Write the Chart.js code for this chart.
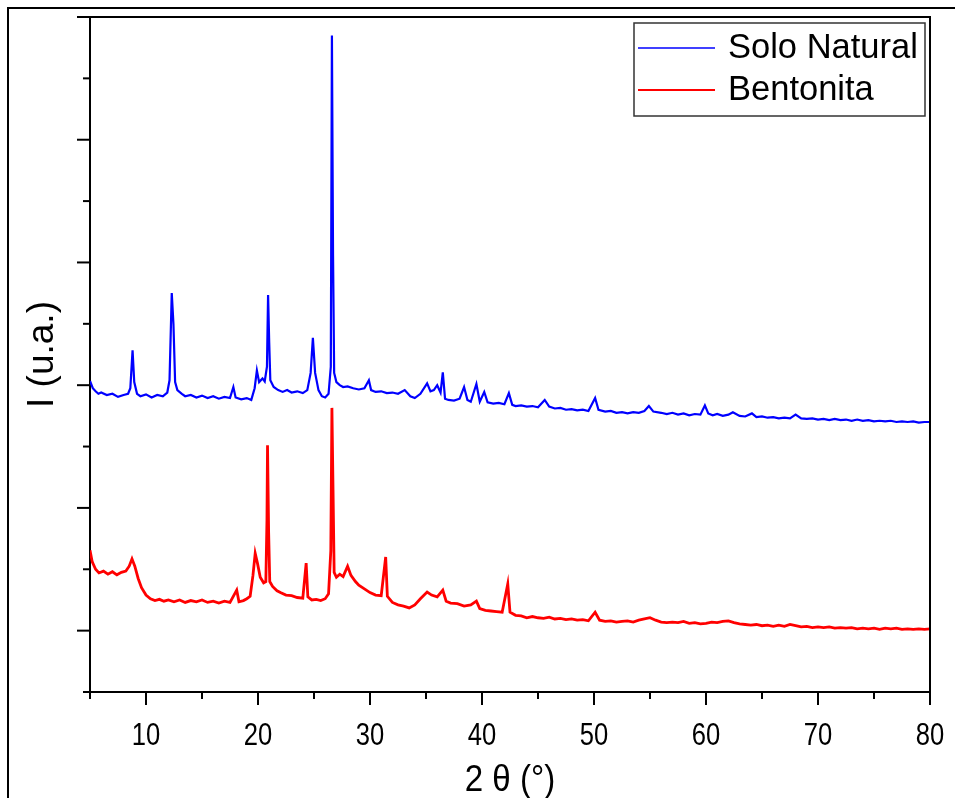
<!DOCTYPE html>
<html>
<head>
<meta charset="utf-8">
<title>DRX - Solo Natural x Bentonita</title>
<script src="https://cdn.jsdelivr.net/npm/chart.js@4.4.1/dist/chart.umd.min.js"></script>
<style>
    html, body { margin: 0; padding: 0; background: #fff; }
    #wrap { width: 955px; height: 798px; }
</style>
</head>
<body>
<div id="wrap"><canvas id="xrdChart" width="955" height="798"></canvas></div>
<script>
// 2 theta (degrees) and intensity (a.u., one y tick = 1)
const soloTheta = [5.0, 5.25, 5.5, 5.75, 6.0, 6.5, 7.0, 7.5, 8.0, 8.4, 8.6, 8.8, 8.95, 9.2, 9.5, 10.0, 10.5, 11.0, 11.5, 11.9,
    12.1, 12.3, 12.45, 12.6, 12.8, 13.2, 13.5, 14.0, 14.5, 15.0, 15.5, 16.0, 16.5, 17.0, 17.5, 17.8, 18.0, 18.5, 19.0, 19.4,
    19.7, 19.9, 20.1, 20.4, 20.6, 20.8, 20.9, 21.0, 21.1, 21.4, 21.8, 22.2, 22.6, 23.0, 23.5, 24.0, 24.4, 24.7, 24.9, 25.1,
    25.4, 25.7, 26.0, 26.3, 26.5, 26.6, 26.7, 26.8, 27.0, 27.3, 27.6, 28.0, 28.5, 29.0, 29.5, 29.9, 30.1, 30.5, 31.0, 31.5,
    32.0, 32.5, 33.1, 33.6, 34.0, 34.5, 35.1, 35.4, 35.7, 36.0, 36.3, 36.5, 36.7, 37.0, 37.5, 38.0, 38.4, 38.7, 39.0, 39.5,
    39.8, 40.2, 40.5, 41.0, 41.5, 42.0, 42.4, 42.7, 43.0, 43.5, 44.0, 44.5, 45.0, 45.6, 46.0, 46.5, 47.0, 47.5, 48.0, 48.5,
    49.0, 49.5, 50.1, 50.4, 51.0, 51.5, 52.0, 52.5, 53.0, 53.5, 54.0, 54.5, 54.9, 55.3, 56.0, 56.5, 57.0, 57.5, 58.0, 58.5,
    59.0, 59.5, 59.9, 60.2, 60.6, 61.0, 61.5, 62.0, 62.4, 63.0, 63.5, 64.1, 64.5, 65.0, 65.5, 66.0, 66.5, 67.0, 67.5, 68.0,
    68.5, 69.0, 69.5, 70.0, 70.5, 71.0, 71.5, 72.0, 72.5, 73.0, 73.5, 74.0, 74.5, 75.0, 75.5, 76.0, 76.5, 77.0, 77.5, 78.0,
    78.5, 79.0, 79.5, 80.0];
const soloI = [5.07, 4.95, 4.90, 4.86, 4.88, 4.84, 4.86, 4.81, 4.84, 4.86, 4.95, 5.57, 5.05, 4.86, 4.82, 4.85, 4.80, 4.84, 4.82, 4.88,
    5.08, 6.50, 6.00, 5.05, 4.92, 4.86, 4.82, 4.84, 4.80, 4.83, 4.79, 4.82, 4.78, 4.81, 4.79, 4.97, 4.80, 4.77, 4.79, 4.76,
    4.95, 5.24, 5.05, 5.11, 5.06, 5.30, 6.47, 5.70, 5.08, 4.97, 4.92, 4.89, 4.92, 4.88, 4.90, 4.87, 4.92, 5.20, 5.77, 5.20,
    4.92, 4.82, 4.80, 4.86, 5.30, 10.70, 7.12, 5.20, 5.05, 5.00, 4.97, 4.98, 4.95, 4.93, 4.95, 5.08, 4.92, 4.89, 4.90, 4.87,
    4.88, 4.86, 4.92, 4.82, 4.79, 4.86, 5.03, 4.90, 4.92, 5.00, 4.88, 5.21, 4.78, 4.76, 4.75, 4.78, 4.97, 4.76, 4.73, 5.02,
    4.73, 4.89, 4.72, 4.70, 4.71, 4.69, 4.87, 4.68, 4.66, 4.67, 4.65, 4.66, 4.64, 4.76, 4.65, 4.62, 4.63, 4.60, 4.61, 4.59,
    4.60, 4.58, 4.79, 4.60, 4.57, 4.58, 4.55, 4.56, 4.54, 4.56, 4.55, 4.58, 4.66, 4.57, 4.55, 4.53, 4.55, 4.52, 4.54, 4.51,
    4.53, 4.52, 4.67, 4.54, 4.51, 4.53, 4.50, 4.52, 4.56, 4.50, 4.49, 4.54, 4.48, 4.49, 4.47, 4.48, 4.46, 4.47, 4.46, 4.52,
    4.46, 4.45, 4.46, 4.44, 4.45, 4.43, 4.45, 4.43, 4.44, 4.42, 4.44, 4.42, 4.43, 4.41, 4.42, 4.41, 4.42, 4.40, 4.41, 4.40,
    4.41, 4.39, 4.40, 4.40];

const bentTheta = [5.0, 5.2, 5.5, 5.8, 6.2, 6.6, 7.0, 7.4, 7.8, 8.2, 8.5, 8.75, 9.0, 9.3, 9.6, 10.0, 10.4, 10.8, 11.2, 11.6,
    12.0, 12.5, 13.0, 13.5, 14.0, 14.5, 15.0, 15.5, 16.0, 16.5, 17.0, 17.5, 18.1, 18.3, 18.7, 19.0, 19.3, 19.55, 19.75, 19.95,
    20.2, 20.5, 20.7, 20.8, 20.85, 20.95, 21.05, 21.3, 21.7, 22.0, 22.5, 23.0, 23.5, 24.0, 24.3, 24.45, 24.8, 25.2, 25.6, 26.0,
    26.3, 26.5, 26.6, 26.7, 26.8, 27.0, 27.3, 27.6, 28.0, 28.3, 28.7, 29.0, 29.5, 30.0, 30.5, 31.0, 31.4, 31.55, 32.0, 32.5,
    33.0, 33.5, 34.0, 34.5, 35.1, 35.5, 36.0, 36.5, 36.8, 37.2, 37.8, 38.4, 39.0, 39.5, 39.8, 40.3, 40.8, 41.3, 41.8, 42.3,
    42.5, 43.0, 43.5, 44.0, 44.5, 45.0, 45.5, 46.0, 46.5, 47.0, 47.5, 48.0, 48.5, 49.0, 49.5, 50.1, 50.5, 51.0, 51.5, 52.0,
    52.5, 53.0, 53.5, 54.0, 54.5, 55.0, 55.5, 56.0, 56.5, 57.0, 57.5, 58.0, 58.5, 59.0, 59.5, 60.0, 60.5, 61.0, 61.5, 62.0,
    62.5, 63.0, 63.5, 64.0, 64.5, 65.0, 65.5, 66.0, 66.5, 67.0, 67.5, 68.0, 68.5, 69.0, 69.5, 70.0, 70.5, 71.0, 71.5, 72.0,
    72.5, 73.0, 73.5, 74.0, 74.5, 75.0, 75.5, 76.0, 76.5, 77.0, 77.5, 78.0, 78.5, 79.0, 79.5, 80.0];
const bentI = [2.31, 2.12, 2.00, 1.94, 1.97, 1.92, 1.96, 1.91, 1.95, 1.97, 2.05, 2.17, 2.05, 1.85, 1.70, 1.58, 1.52, 1.49, 1.51, 1.48,
    1.50, 1.47, 1.50, 1.46, 1.49, 1.47, 1.50, 1.46, 1.48, 1.45, 1.48, 1.46, 1.66, 1.47, 1.49, 1.52, 1.56, 1.90, 2.26, 2.10,
    1.87, 1.78, 1.80, 2.80, 4.02, 2.60, 1.80, 1.72, 1.65, 1.62, 1.58, 1.57, 1.54, 1.53, 2.10, 1.55, 1.50, 1.51, 1.49, 1.52,
    1.60, 2.30, 4.63, 3.29, 1.95, 1.87, 1.92, 1.88, 2.05, 1.90, 1.80, 1.74, 1.68, 1.62, 1.58, 1.57, 2.20, 1.56, 1.46, 1.42,
    1.40, 1.37, 1.42, 1.52, 1.63, 1.58, 1.55, 1.66, 1.48, 1.45, 1.44, 1.40, 1.42, 1.48, 1.36, 1.33, 1.32, 1.31, 1.30, 1.76,
    1.30, 1.25, 1.24, 1.21, 1.23, 1.21, 1.20, 1.22, 1.19, 1.20, 1.18, 1.19, 1.17, 1.18, 1.16, 1.30, 1.17, 1.15, 1.16, 1.14,
    1.15, 1.16, 1.14, 1.17, 1.19, 1.21, 1.17, 1.14, 1.13, 1.14, 1.13, 1.15, 1.12, 1.13, 1.11, 1.12, 1.14, 1.13, 1.15, 1.16,
    1.13, 1.11, 1.10, 1.09, 1.10, 1.08, 1.09, 1.07, 1.09, 1.07, 1.10, 1.08, 1.06, 1.07, 1.05, 1.06, 1.05, 1.06, 1.04, 1.05,
    1.04, 1.05, 1.03, 1.04, 1.03, 1.04, 1.02, 1.04, 1.03, 1.04, 1.02, 1.03, 1.02, 1.03, 1.02, 1.03];

const seriesNames = ['Solo Natural', 'Bentonita'];
const seriesColors = ['#0000ff', '#ff0000'];
const xTickLabels = [10, 20, 30, 40, 50, 60, 70, 80];
const xTitle = '2 θ (°)';

function toPoints(xs, ys) {
    return xs.map((x, i) => ({ x: x, y: ys[i] }));
}

// narrow text like the original: draw with a horizontal squeeze
function narrowText(c, text, x, y, size, squeeze) {
    c.save();
    c.translate(x, y);
    c.scale(squeeze, 1);
    c.font = size + 'px "Liberation Sans", Arial, sans-serif';
    c.textAlign = 'center';
    c.textBaseline = 'alphabetic';
    c.fillText(text, 0, 0);
    c.restore();
}

// page frame, top/right box lines, tick marks, tick labels and the legend box
const decorations = {
    id: 'decorations',
    afterDraw(chart) {
        const c = chart.ctx;
        const area = chart.chartArea;
        const xs = chart.scales.x;
        const ys = chart.scales.y;
        c.save();
        c.strokeStyle = '#000';
        c.fillStyle = '#000';
        c.lineWidth = 2;

        c.beginPath();
        c.moveTo(8, 798);
        c.lineTo(8, 8);
        c.lineTo(955, 8);
        c.stroke();

        c.beginPath();
        c.moveTo(area.left, area.top);
        c.lineTo(area.right, area.top);
        c.lineTo(area.right, area.bottom);
        c.stroke();

        xs.ticks.forEach(t => {
            const px = xs.getPixelForValue(t.value);
            const len = t.value % 10 === 0 ? 13 : 7;
            c.beginPath();
            c.moveTo(px, area.bottom);
            c.lineTo(px, area.bottom + len);
            c.stroke();
            if (xTickLabels.includes(t.value)) {
                narrowText(c, String(t.value), px, area.bottom + 53, 32, 0.8);
            }
        });
        ys.ticks.forEach(t => {
            const py = ys.getPixelForValue(t.value);
            const len = t.value % 2 === 1 ? 13 : 7;
            c.beginPath();
            c.moveTo(area.left, py);
            c.lineTo(area.left - len, py);
            c.stroke();
        });

        narrowText(c, xTitle, (area.left + area.right) / 2, 791, 36, 0.92);

        // legend
        c.lineWidth = 1.5;
        c.strokeStyle = '#333';
        c.strokeRect(634, 23, 291, 93);
        c.font = '34.5px "Liberation Sans", Arial, sans-serif';
        c.textBaseline = 'middle';
        c.textAlign = 'left';
        const rows = [48, 90];
        chart.data.datasets.forEach((ds, i) => {
            c.strokeStyle = ds.borderColor;
            c.lineWidth = i === 0 ? 1.5 : 2;
            c.beginPath();
            c.moveTo(638, rows[i]);
            c.lineTo(715, rows[i]);
            c.stroke();
            c.fillText(ds.label, 728, rows[i]);
        });
        c.restore();
    }
};

document.addEventListener('DOMContentLoaded', function() {
    const ctx = document.getElementById('xrdChart').getContext('2d');

    new Chart(ctx, {
        type: 'line',
        data: {
            datasets: [{
                label: seriesNames[0],
                data: toPoints(soloTheta, soloI),
                borderColor: seriesColors[0],
                borderWidth: 2.2,
                pointRadius: 0,
                tension: 0
            }, {
                label: seriesNames[1],
                data: toPoints(bentTheta, bentI),
                borderColor: seriesColors[1],
                borderWidth: 2.8,
                pointRadius: 0,
                tension: 0
            }]
        },
        options: {
            responsive: false,
            animation: false,
            layout: {
                padding: { left: 0, top: 17, right: 25, bottom: 0 }
            },
            plugins: {
                legend: { display: false },
                tooltip: { enabled: false }
            },
            scales: {
                x: {
                    type: 'linear',
                    min: 5,
                    max: 80,
                    afterFit: s => { s.height = 106; },
                    grid: { display: false, drawTicks: false },
                    border: { display: true, color: '#000', width: 2 },
                    ticks: { display: false, stepSize: 5, autoSkip: false }
                },
                y: {
                    min: 0,
                    max: 11,
                    afterFit: s => { s.width = 90; },
                    grid: { display: false, drawTicks: false },
                    border: { display: true, color: '#000', width: 2 },
                    ticks: { display: false, stepSize: 1 },
                    title: {
                        display: true,
                        text: 'I (u.a.)',
                        color: '#000',
                        padding: { top: 21, bottom: 0 },
                        font: { family: '"Liberation Sans", Arial, sans-serif', size: 37 }
                    }
                }
            }
        },
        plugins: [decorations]
    });
});
</script>
</body>
</html>
